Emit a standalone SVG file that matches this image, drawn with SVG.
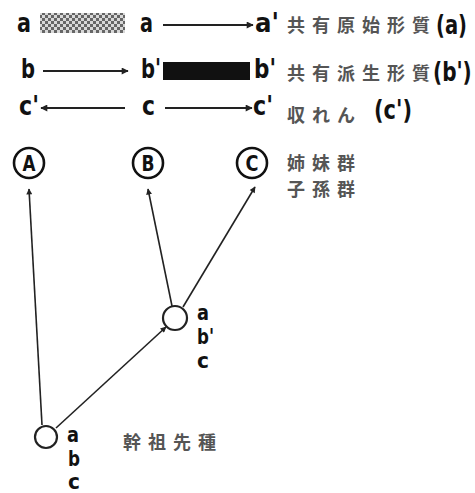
<svg xmlns="http://www.w3.org/2000/svg" width="475" height="493" viewBox="0 0 475 493">
<defs>
<style>
.lat{font-family:"DejaVu Sans","Liberation Sans",sans-serif;font-weight:bold;fill:#111}
.big{font-size:27px}
.par{font-size:26px}
.mid{font-size:22px}
.jp{font-family:"Noto Sans CJK JP","Noto Sans CJK SC",sans-serif;font-size:18px;fill:#555;letter-spacing:7px;font-weight:bold}
.ln{stroke:#222;stroke-width:2;fill:none}
.tr{stroke:#222;stroke-width:1.6;fill:none}
.node{fill:#fff;stroke:#222;stroke-width:2.2}
.cn{fill:#fff;stroke:#111;stroke-width:2.6}
.lbl{font-family:"DejaVu Sans","Liberation Sans",sans-serif;font-weight:bold;font-size:22px;fill:#111}
</style>
<marker id="ah" viewBox="0 0 10 10" refX="9" refY="5" markerWidth="9" markerHeight="7" markerUnits="userSpaceOnUse" orient="auto">
<path d="M0,0 L10,5 L0,10 Z" fill="#222"/>
</marker>
<marker id="ah2" viewBox="0 0 10 10" refX="9" refY="5" markerWidth="8" markerHeight="6" markerUnits="userSpaceOnUse" orient="auto">
<path d="M0,0 L10,5 L0,10 Z" fill="#222"/>
</marker>
<pattern id="chk" width="6" height="6" patternUnits="userSpaceOnUse">
<rect width="6" height="6" fill="#d8d8d8"/>
<rect width="3" height="3" fill="#666"/>
<rect x="3" y="3" width="3" height="3" fill="#666"/>
</pattern>
</defs>
<rect width="475" height="493" fill="#fff"/>

<g id="legend">
<text class="lat big" x="17" y="32" textLength="14" lengthAdjust="spacingAndGlyphs">a</text>
<rect x="40" y="13" width="85" height="20" fill="url(#chk)"/>
<text class="lat big" x="140" y="32" textLength="13" lengthAdjust="spacingAndGlyphs">a</text>
<text class="lat big" x="255" y="32" textLength="24" lengthAdjust="spacingAndGlyphs">a'</text>
<text class="jp" x="287" y="32">共有原始形質</text>
<text class="lat par" transform="translate(436,34) scale(0.75,1)" x="0" y="0">(a)</text>

<text class="lat big" x="21" y="78" textLength="14" lengthAdjust="spacingAndGlyphs">b</text>
<text class="lat big" x="141" y="78" textLength="20" lengthAdjust="spacingAndGlyphs">b'</text>
<rect x="163" y="62" width="87" height="18" fill="#111"/>
<text class="lat big" x="254" y="78" textLength="22" lengthAdjust="spacingAndGlyphs">b'</text>
<text class="jp" x="287" y="80">共有派生形質</text>
<text class="lat par" transform="translate(433,81) scale(0.77,1)" x="0" y="0">(b')</text>

<text class="lat big" x="19" y="115" textLength="20" lengthAdjust="spacingAndGlyphs">c'</text>
<text class="lat big" x="142" y="115" textLength="13" lengthAdjust="spacingAndGlyphs">c</text>
<text class="lat big" x="253" y="115" textLength="20" lengthAdjust="spacingAndGlyphs">c'</text>
<text class="jp" x="287" y="122">収れん</text>
<text class="lat par" x="374" y="119" textLength="38" lengthAdjust="spacingAndGlyphs">(c')</text>
</g>

<g id="connectors">
<line class="ln" x1="163" y1="25" x2="253" y2="25" marker-end="url(#ah)"/>
<line class="ln" x1="43" y1="71" x2="128" y2="71" marker-end="url(#ah)"/>
<line class="ln" x1="125" y1="108" x2="41" y2="108" marker-end="url(#ah)"/>
<line class="ln" x1="165" y1="108" x2="252" y2="108" marker-end="url(#ah)"/>
<line class="tr" x1="42" y1="425" x2="29" y2="189" marker-end="url(#ah2)"/>
<line class="tr" x1="172" y1="306" x2="148" y2="189" marker-end="url(#ah2)"/>
<line class="tr" x1="183" y1="307" x2="255" y2="187" marker-end="url(#ah2)"/>
<line class="tr" x1="56" y1="428" x2="166" y2="327" marker-end="url(#ah2)"/>
</g>

<g id="nodeA">
<circle class="cn" cx="29" cy="163" r="15"/>
<text class="lbl" x="22.5" y="171" textLength="13" lengthAdjust="spacingAndGlyphs">A</text>
</g>
<g id="nodeB">
<circle class="cn" cx="148" cy="163" r="15"/>
<text class="lbl" x="141.5" y="171" textLength="13" lengthAdjust="spacingAndGlyphs">B</text>
</g>
<g id="nodeC">
<circle class="cn" cx="252" cy="163" r="15"/>
<text class="lbl" x="245.5" y="171" textLength="13" lengthAdjust="spacingAndGlyphs">C</text>
<text class="jp" x="287" y="170">姉妹群</text>
<text class="jp" x="287" y="196">子孫群</text>
</g>

<g id="nodeMid">
<circle class="node" cx="175" cy="318" r="12"/>
<text class="lat mid" x="197" y="320" textLength="12" lengthAdjust="spacingAndGlyphs">a</text>
<text class="lat mid" x="197" y="344" textLength="17" lengthAdjust="spacingAndGlyphs">b'</text>
<text class="lat mid" x="197" y="368" textLength="12" lengthAdjust="spacingAndGlyphs">c</text>
</g>

<g id="nodeRoot">
<circle class="node" cx="46" cy="437" r="11"/>
<text class="lat mid" x="67" y="442" textLength="12" lengthAdjust="spacingAndGlyphs">a</text>
<text class="lat mid" x="68" y="466" textLength="12" lengthAdjust="spacingAndGlyphs">b</text>
<text class="lat mid" x="68" y="489" textLength="12" lengthAdjust="spacingAndGlyphs">c</text>
<text class="jp" x="123" y="449">幹祖先種</text>
</g>
</svg>
